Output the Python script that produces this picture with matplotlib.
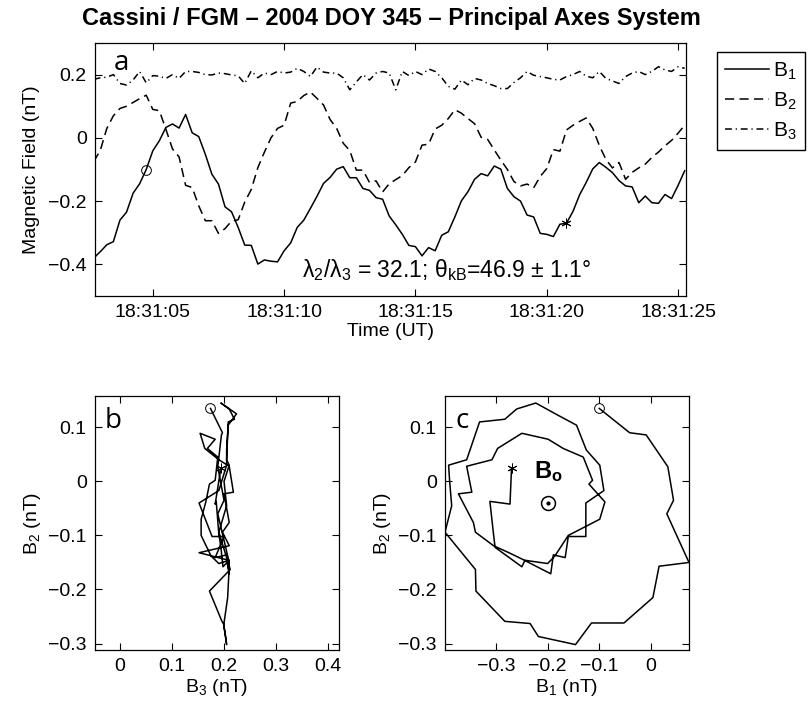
import numpy as np
import matplotlib.pyplot as plt

# Cassini FGM, principal axes components (nT), 0.25 s samples from 18:31:02.75 UT
t_first = 2.75
t_step = 0.25
b1 = [-0.380, -0.360, -0.338, -0.328, -0.260, -0.235, -0.175, -0.145, -0.100, -0.041,
      -0.009, 0.033, 0.044, 0.031, 0.074, 0.016, 0.004, -0.052, -0.115, -0.146,
      -0.218, -0.234, -0.283, -0.339, -0.340, -0.399, -0.386, -0.390, -0.392, -0.357,
      -0.332, -0.283, -0.260, -0.223, -0.185, -0.144, -0.125, -0.099, -0.091, -0.126,
      -0.126, -0.160, -0.166, -0.189, -0.194, -0.247, -0.275, -0.305, -0.340, -0.344,
      -0.373, -0.347, -0.357, -0.308, -0.297, -0.250, -0.199, -0.170, -0.131, -0.113,
      -0.120, -0.089, -0.099, -0.160, -0.186, -0.200, -0.244, -0.250, -0.302, -0.305,
      -0.312, -0.273, -0.270, -0.232, -0.180, -0.141, -0.098, -0.078, -0.093, -0.110,
      -0.135, -0.152, -0.155, -0.205, -0.184, -0.205, -0.207, -0.179, -0.192, -0.150,
      -0.104]
b2 = [-0.075, -0.040, 0.030, 0.070, 0.093, 0.100, 0.112, 0.124, 0.135, 0.090,
      0.086, 0.027, -0.035, -0.060, -0.150, -0.157, -0.215, -0.262, -0.262, -0.302,
      -0.287, -0.263, -0.259, -0.203, -0.163, -0.094, -0.045, 0.000, 0.030, 0.040,
      0.110, 0.115, 0.134, 0.145, 0.125, 0.104, 0.058, 0.030, -0.017, -0.040,
      -0.102, -0.102, -0.141, -0.136, -0.171, -0.145, -0.132, -0.119, -0.094, -0.076,
      -0.023, -0.020, 0.028, 0.040, 0.061, 0.089, 0.078, 0.061, 0.045, 0.002,
      -0.005, -0.038, -0.070, -0.100, -0.138, -0.152, -0.146, -0.158, -0.122, -0.097,
      -0.037, -0.042, 0.025, 0.040, 0.052, 0.063, 0.030, -0.024, -0.068, -0.095,
      -0.078, -0.131, -0.109, -0.095, -0.083, -0.062, -0.045, -0.025, -0.008, 0.015,
      0.040]
b3 = [0.185, 0.190, 0.192, 0.200, 0.172, 0.167, 0.183, 0.210, 0.174, 0.197,
      0.195, 0.188, 0.200, 0.188, 0.210, 0.210, 0.207, 0.200, 0.199, 0.205,
      0.203, 0.199, 0.196, 0.172, 0.212, 0.190, 0.205, 0.200, 0.210, 0.205,
      0.208, 0.220, 0.210, 0.194, 0.224, 0.208, 0.205, 0.205, 0.190, 0.152,
      0.177, 0.200, 0.183, 0.205, 0.210, 0.205, 0.152, 0.210, 0.197, 0.210,
      0.200, 0.218, 0.210, 0.190, 0.163, 0.154, 0.183, 0.168, 0.188, 0.183,
      0.172, 0.165, 0.156, 0.156, 0.175, 0.190, 0.210, 0.198, 0.194, 0.190,
      0.185, 0.183, 0.194, 0.200, 0.210, 0.195, 0.190, 0.210, 0.188, 0.180,
      0.172, 0.194, 0.205, 0.210, 0.200, 0.210, 0.225, 0.215, 0.210, 0.225,
      0.220]
i_start = 8   # open circle
i_end = 72    # asterisk
b0 = (-0.20, -0.04)   # mean field direction marker in panel c

tick_secs = [5, 10, 15, 20, 25]
title = 'Cassini / FGM \u2013 2004 DOY 345 \u2013 Principal Axes System'
note = '\u03bb$_2$/\u03bb$_3$ = 32.1; \u03b8$_{\\mathrm{kB}}$=46.9 \u00b1 1.1\u00b0'

plt.rcParams['font.family'] = ['Liberation Sans', 'DejaVu Sans']
plt.rcParams['mathtext.fontset'] = 'custom'
plt.rcParams['mathtext.rm'] = 'Liberation Sans'
plt.rcParams['mathtext.it'] = 'Liberation Sans:italic'
plt.rcParams['mathtext.bf'] = 'Liberation Sans:bold'
plt.rcParams['font.size'] = 14
plt.rcParams['axes.linewidth'] = 0.9

t = t_first + t_step * np.arange(len(b1))
b1 = np.array(b1); b2 = np.array(b2); b3 = np.array(b3)
sl = slice(i_start, i_end + 1)

dash = (0, (6, 3.5))
dashdot = (0, (4.5, 2.5, 0.8, 2.5))

W, H = 809, 706
fig = plt.figure(figsize=(W / 100, H / 100), dpi=100)

def box(x0, y0, x1, y1):
    # pixel box -> figure fraction
    return [x0 / W, 1 - y1 / H, (x1 - x0) / W, (y1 - y0) / H]

def style(ax):
    ax.tick_params(direction='in', length=5, width=0.8, top=True, right=True,
                   pad=6, labelsize=14)

ax_a = fig.add_axes(box(95, 43, 686, 296))
ax_b = fig.add_axes(box(95, 396, 339, 650))
ax_c = fig.add_axes(box(445, 396, 689, 650))

# --- panel a: time series
ax_a.plot(t, b1, color='k', lw=1.1, label='B$_1$')
ax_a.plot(t, b2, color='k', lw=1.1, ls=dash, label='B$_2$')
ax_a.plot(t, b3, color='k', lw=1.1, ls=dashdot, label='B$_3$')
ax_a.plot(t[i_start], b1[i_start], 'o', mfc='none', mec='k', ms=7, mew=0.7)
ax_a.plot(t[i_end], b1[i_end], marker=(6, 2, 0), color='k', ms=7, mew=0.7)
ax_a.set_xlim(2.8, 25.3)
ax_a.set_ylim(-0.5, 0.3)
ax_a.set_xticks(tick_secs)
ax_a.set_xticklabels(['18:31:%02d' % s for s in tick_secs])
ax_a.set_yticks([-0.4, -0.2, 0, 0.2])
ax_a.set_yticklabels(['\u22120.4', '\u22120.2', '0', '0.2'])
ax_a.set_xlabel('Time (UT)', labelpad=1)
ax_a.set_ylabel('Magnetic Field (nT)', labelpad=6)
ax_a.text(16.2, -0.418, note, ha='center', va='center', fontsize=16.5)
ax_a.text(0.045, 0.92, 'a', transform=ax_a.transAxes, fontsize=20,
          family='Open Sans', ha='center', va='center')
style(ax_a)

fig.legend(handles=ax_a.get_lines()[:3], loc='upper left',
           bbox_to_anchor=(717 / W, 1 - 52 / H), borderaxespad=0,
           fancybox=False, edgecolor='k', framealpha=1, handlelength=2.1,
           handletextpad=0.2, labelspacing=0.42, borderpad=0.4, fontsize=15)

# --- panel b: B2 vs B3 hodogram
ax_b.plot(b3[sl], b2[sl], color='k', lw=1.1)
ax_b.plot(b3[i_start], b2[i_start], 'o', mfc='none', mec='k', ms=7, mew=0.7)
ax_b.plot(b3[i_end], b2[i_end], marker=(6, 2, 0), color='k', ms=7, mew=0.7)
ax_b.set_xlim(-0.048, 0.421)
ax_b.set_ylim(-0.312, 0.158)
ax_b.set_xticks([0, 0.1, 0.2, 0.3, 0.4])
ax_b.set_xticklabels(['0', '0.1', '0.2', '0.3', '0.4'])
ax_b.set_yticks([-0.3, -0.2, -0.1, 0, 0.1])
ax_b.set_yticklabels(['\u22120.3', '\u22120.2', '\u22120.1', '0', '0.1'])
ax_b.set_xlabel('B$_3$ (nT)', labelpad=1)
ax_b.set_ylabel('B$_2$ (nT)', labelpad=4)
ax_b.text(0.075, 0.9, 'b', transform=ax_b.transAxes, fontsize=20,
          family='Open Sans', ha='center', va='center')
style(ax_b)

# --- panel c: B2 vs B1 hodogram
ax_c.plot(b1[sl], b2[sl], color='k', lw=1.1)
ax_c.plot(b1[i_start], b2[i_start], 'o', mfc='none', mec='k', ms=7, mew=0.7)
ax_c.plot(b1[i_end], b2[i_end], marker=(6, 2, 0), color='k', ms=7, mew=0.7)
ax_c.plot(b0[0], b0[1], 'o', mfc='none', mec='k', ms=10, mew=1.1)
ax_c.plot(b0[0], b0[1], 'o', color='k', ms=2)
ax_c.text(-0.226, 0.006, r'$\mathbf{B_o}$', fontsize=17, ha='left', va='baseline')
ax_c.set_xlim(-0.399, 0.074)
ax_c.set_ylim(-0.312, 0.158)
ax_c.set_xticks([-0.3, -0.2, -0.1, 0])
ax_c.set_xticklabels(['\u22120.3', '\u22120.2', '\u22120.1', '0'])
ax_c.set_yticks([-0.3, -0.2, -0.1, 0, 0.1])
ax_c.set_yticklabels(['\u22120.3', '\u22120.2', '\u22120.1', '0', '0.1'])
ax_c.set_xlabel('B$_1$ (nT)', labelpad=1)
ax_c.set_ylabel('B$_2$ (nT)', labelpad=4)
ax_c.text(0.07, 0.9, 'c', transform=ax_c.transAxes, fontsize=20,
          family='Open Sans', ha='center', va='center')
style(ax_c)

fig.text(391 / W, 1 - 19 / H, title, ha='center', va='center', fontsize=17,
         fontweight='bold')

fig.savefig('out.png', dpi=100)
